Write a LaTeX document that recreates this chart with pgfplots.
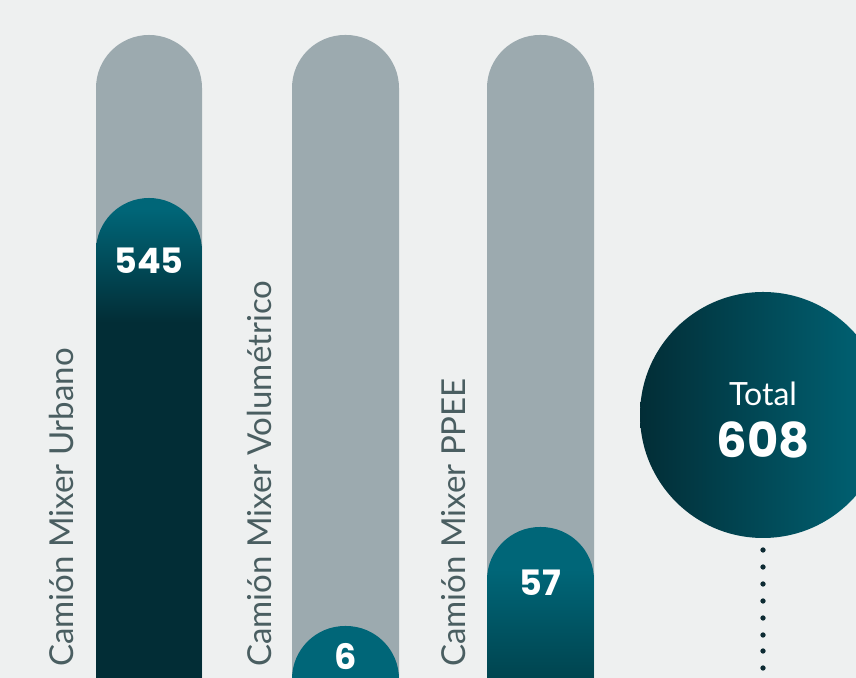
\documentclass[border=0pt]{standalone}
\usepackage{pgfplots}
\pgfplotsset{compat=1.18}
\usepackage{fontspec}
\setmainfont{Poppins}
\newfontfamily\lato{Lato}
\definecolor{bg}{HTML}{EEF0F0}
\definecolor{pill}{HTML}{9CAAAF}
\definecolor{tl}{HTML}{006678}
\definecolor{dk}{HTML}{022D36}
\definecolor{mid3}{HTML}{00444F}
\definecolor{lbl}{HTML}{4A5E61}
\definecolor{dotc}{HTML}{0D2B33}
\pgfdeclareverticalshading{barA}{100bp}{color(0bp)=(dk); color(63.5bp)=(dk); color(74bp)=(tl); color(100bp)=(tl)}
\pgfdeclareverticalshading{barC}{100bp}{color(0bp)=(mid3); color(39bp)=(mid3); color(65bp)=(tl); color(100bp)=(tl)}
\begin{document}
\begin{tikzpicture}
\begin{axis}[
  scale only axis, width=428pt, height=339pt,
  xmin=0, xmax=856, ymin=0, ymax=678,
  hide axis, clip=true,
]
\coordinate (SW) at (rel axis cs:0,0);
\coordinate (NE) at (rel axis cs:1,1);
% background
\addplot[fill=bg, draw=none] coordinates {(0,0) (856,0) (856,678) (0,678)} -- cycle;
% gray pills (full scale)
\addplot[fill=pill, draw=none, rounded corners=26.5pt] coordinates {(96,-60) (96,643) (202,643) (202,-60)} -- cycle;
\addplot[fill=pill, draw=none, rounded corners=26.5pt] coordinates {(292,-60) (292,643) (399,643) (399,-60)} -- cycle;
\addplot[fill=pill, draw=none, rounded corners=26.5pt] coordinates {(487,-60) (487,643) (594,643) (594,-60)} -- cycle;
% value bars: 545, 6, 57
\addplot[draw=none, shade, shading=barA, rounded corners=26.5pt] coordinates {(96,-60) (96,480) (202,480) (202,-60)} -- cycle;
\addplot[fill=tl, draw=none, rounded corners=26.5pt] coordinates {(292,-60) (292,52) (399,52) (399,-60)} -- cycle;
\addplot[draw=none, shade, shading=barC, rounded corners=26.5pt] coordinates {(487,-60) (487,151) (594,151) (594,-60)} -- cycle;
% value labels
\addplot[only marks, mark=none, point meta=explicit symbolic, nodes near coords,
  every node near coord/.append style={anchor=center, text=white, inner sep=0pt,
  font=\bfseries\fontsize{17.5}{18}\selectfont}]
  coordinates {(149,417)[545] (345.5,21)[6] (540.5,95)[57]};
% dotted line
\addplot[only marks, mark=*, mark size=1.1pt, color=dotc]
  coordinates {(763,128) (763,111) (763,94) (763,77) (763,60) (763,43) (763,27) (763,10)};
% total circle
\addplot[only marks, mark=none, point meta=explicit symbolic,
  nodes near coords={},
  every node near coord/.append style={circle, minimum size=123pt, inner sep=0pt,
  left color=dk, right color=tl, anchor=center}]
  coordinates {(763,263)[608]};
\addplot[only marks, mark=none, point meta=explicit symbolic,
  nodes near coords={{\lato\fontsize{16}{18}\selectfont Total}\\[7pt]{\bfseries\fontsize{24}{26}\selectfont\pgfplotspointmeta}},
  every node near coord/.append style={inner sep=0pt, text=white, align=center, anchor=center}]
  coordinates {(763,258)[608]};
% category labels
\node[rotate=90, anchor=base west, text=lbl, font=\lato\fontsize{16.5}{18}\selectfont] at (axis cs:73,4) {Camión Mixer Urbano};
\node[rotate=90, anchor=base west, text=lbl, font=\lato\fontsize{16.5}{18}\selectfont] at (axis cs:271,4) {Camión Mixer Volumétrico};
\node[rotate=90, anchor=base west, text=lbl, font=\lato\fontsize{16.5}{18}\selectfont] at (axis cs:465,4) {Camión Mixer PPEE};
\end{axis}
\pgfresetboundingbox
\path[use as bounding box] (SW) rectangle (NE);
\end{tikzpicture}
\end{document}
